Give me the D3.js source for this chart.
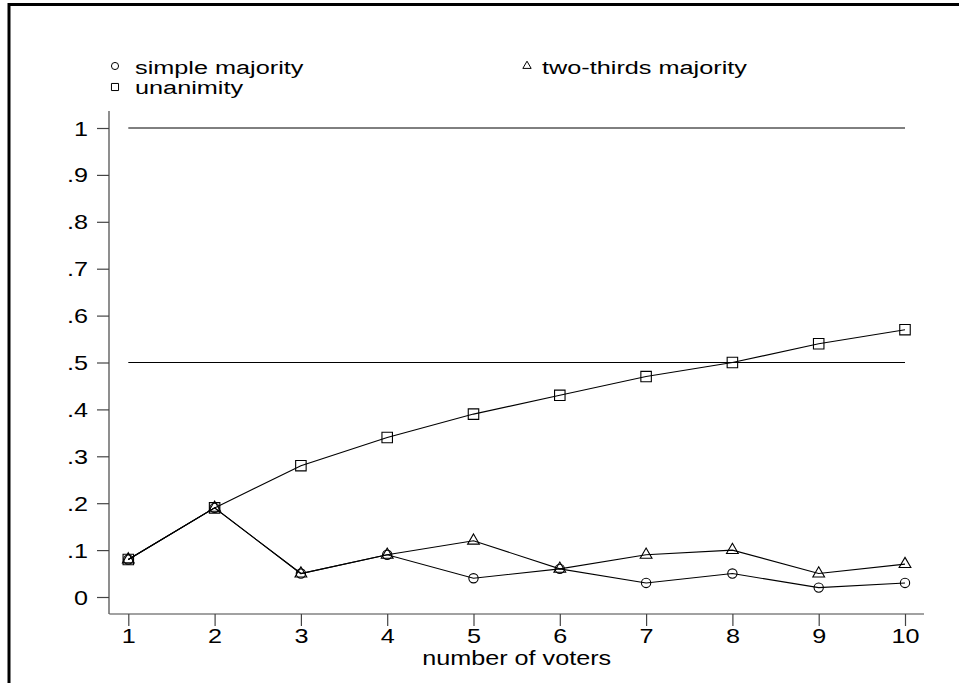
<!DOCTYPE html>
<html>
<head>
  <title>Voting rules</title>
  <script src="https://d3js.org/d3.v7.min.js"></script>
  <style>
    body { margin: 0; background: #fff; }
    text { font-family: "Liberation Sans", Arial, sans-serif; fill: #000; }
  </style>
</head>
<body>
  <svg id="chart"></svg>

  <script>
    // data
    const voters = [1, 2, 3, 4, 5, 6, 7, 8, 9, 10];
    const simpleMajority = [0.08, 0.19, 0.05, 0.09, 0.04, 0.06, 0.03, 0.05, 0.02, 0.03];
    const twoThirds = [0.08, 0.19, 0.05, 0.09, 0.12, 0.06, 0.09, 0.10, 0.05, 0.07];
    const unanimity = [0.08, 0.19, 0.28, 0.34, 0.39, 0.43, 0.47, 0.50, 0.54, 0.57];
    const yTicks = [0, 0.1, 0.2, 0.3, 0.4, 0.5, 0.6, 0.7, 0.8, 0.9, 1];
    const yTickLabels = ["0", ".1", ".2", ".3", ".4", ".5", ".6", ".7", ".8", ".9", "1"];
    const refLines = [0.5, 1];

    const width = 959, height = 683;
    const stretch = 1.26; // text in the original is wider than tall

    const svg = d3.select("#chart")
      .attr("width", width)
      .attr("height", height);

    // outer frame (runs off the right and bottom edges)
    svg.append("rect")
      .attr("x", 9).attr("y", 4.5)
      .attr("width", 1000).attr("height", 1000)
      .attr("fill", "none").attr("stroke", "#000").attr("stroke-width", 3);

    const x = d3.scaleLinear().domain([1, 10]).range([128.3, 905]);
    const y = d3.scaleLinear().domain([0, 1]).range([597, 128]);

    // axes
    const yAxis = d3.axisLeft(y)
      .tickValues(yTicks)
      .tickFormat((d, i) => yTickLabels[i])
      .tickSize(12).tickSizeOuter(0).tickPadding(9);
    const gy = svg.append("g").attr("transform", "translate(109,0)").call(yAxis);
    gy.select(".domain").remove();
    gy.append("line")
      .attr("x1", 0).attr("x2", 0)
      .attr("y1", y(1.036)).attr("y2", y(-0.036));

    const xAxis = d3.axisBottom(x)
      .tickValues(voters)
      .tickFormat(d3.format("d"))
      .tickSize(12).tickSizeOuter(0).tickPadding(8);
    const gx = svg.append("g").attr("transform", "translate(0,614)").call(xAxis);
    gx.select(".domain").remove();
    gx.append("line")
      .attr("y1", 0).attr("y2", 0)
      .attr("x1", x(0.78)).attr("x2", x(10.22));

    svg.selectAll("g > line").attr("stroke", "#444").attr("stroke-width", 1.2);

    // stretched tick labels
    gy.selectAll(".tick text")
      .attr("font-size", 20)
      .attr("font-family", "Liberation Sans, Arial, sans-serif")
      .attr("dy", "0.35em")
      .attr("transform", `translate(-21,0) scale(${stretch},1)`)
      .attr("x", 0);
    gx.selectAll(".tick text")
      .attr("font-size", 20)
      .attr("font-family", "Liberation Sans, Arial, sans-serif")
      .attr("dy", 0)
      .attr("y", 0)
      .attr("transform", `translate(0,29) scale(${stretch},1)`);

    svg.append("text")
      .attr("transform", `translate(${(x(0.78) + x(10.22)) / 2},665) scale(${stretch},1)`)
      .attr("text-anchor", "middle")
      .attr("font-size", 20)
      .text("number of voters");

    // reference lines
    svg.selectAll(".ref")
      .data(refLines)
      .join("line")
      .attr("class", "ref")
      .attr("x1", x(1)).attr("x2", x(10))
      .attr("y1", d => y(d)).attr("y2", d => y(d))
      .attr("stroke", "#000").attr("stroke-width", 1);

    const line = d3.line().x((d, i) => x(voters[i])).y(d => y(d));

    const series = [
      { name: "unanimity", values: unanimity, symbol: d3.symbolSquare, size: 110 },
      { name: "two-thirds majority", values: twoThirds, symbol: d3.symbolTriangle, size: 60 },
      { name: "simple majority", values: simpleMajority, symbol: d3.symbolCircle, size: 68 }
    ];

    series.forEach(s => {
      svg.append("path")
        .datum(s.values)
        .attr("d", line)
        .attr("fill", "none")
        .attr("stroke", "#000")
        .attr("stroke-width", 1.1);

      svg.append("g")
        .selectAll("path")
        .data(s.values)
        .join("path")
        .attr("transform", (d, i) => `translate(${x(voters[i])},${y(d)})`)
        .attr("d", d3.symbol().type(s.symbol).size(s.size))
        .attr("fill", "none")
        .attr("stroke", "#000")
        .attr("stroke-width", 1.1);
    });

    // legend
    const legend = [
      { name: "simple majority", symbol: d3.symbolCircle, size: 40, mx: 115, my: 66, tx: 135, ty: 74 },
      { name: "two-thirds majority", symbol: d3.symbolTriangle, size: 30, mx: 527, my: 66, tx: 542, ty: 74 },
      { name: "unanimity", symbol: d3.symbolSquare, size: 50, mx: 115, my: 87, tx: 135, ty: 94 }
    ];
    const lg = svg.append("g");
    lg.selectAll("path")
      .data(legend)
      .join("path")
      .attr("transform", d => `translate(${d.mx},${d.my})`)
      .attr("d", d => d3.symbol().type(d.symbol).size(d.size)())
      .attr("fill", "none")
      .attr("stroke", "#000")
      .attr("stroke-width", 1);
    lg.selectAll("text")
      .data(legend)
      .join("text")
      .attr("transform", d => `translate(${d.tx},${d.ty}) scale(1.33,1)`)
      .attr("font-size", 19)
      .text(d => d.name);
  </script>
</body>
</html>
